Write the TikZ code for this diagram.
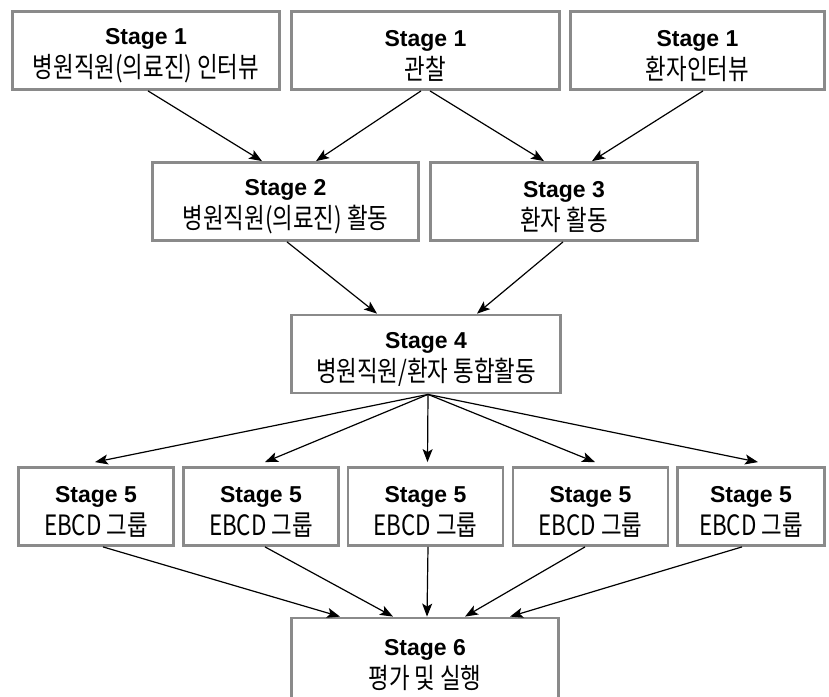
\documentclass[tikz,border=0pt]{standalone}
\usepackage{fontspec}
\setmainfont{Liberation Sans}
\newfontfamily\kr[FakeStretch=0.8]{Noto Sans CJK KR}
\usetikzlibrary{arrows.meta}
\definecolor{boxgray}{HTML}{8A8A8A}
\newcommand{\stg}[2]{\rule{0pt}{27pt}\textbf{#1}\\{\kr\fontsize{28}{33}\selectfont #2}}
\begin{document}
\begin{tikzpicture}[x=1pt,y=-1pt,
  box/.style={draw=boxgray, line width=2.8pt, fill=white, align=center, inner sep=0pt,
    minimum height=78pt, font=\fontsize{23}{33}\selectfont},
  arr/.style={-{Stealth[length=13pt,width=10pt,inset=3pt]}, line width=1.2pt}]
\useasboundingbox (0,0) rectangle (829,696);
% stage 1
\node[box, minimum width=267pt] (A) at (146,50.5) {\stg{Stage 1}{병원직원(의료진) 인터뷰}};
\node[box, minimum width=268pt] (B) at (425.5,50.5) {\stg{Stage 1}{관찰}};
\node[box, minimum width=254pt] (C) at (697.5,50.5) {\stg{Stage 1}{환자인터뷰}};
% stage 2,3
\node[box, minimum width=266pt] (S2) at (285.5,201.5) {\stg{Stage 2}{병원직원(의료진) 활동}};
\node[box, minimum width=267pt] (S3) at (564,201.5) {\stg{Stage 3}{환자 활동}};
% stage 4
\node[box, minimum width=269pt] (S4) at (426,354) {\stg{Stage 4}{병원직원/환자 통합활동}};
% stage 5
\node[box, minimum width=155pt] (S5a) at (96,506.5) {\stg{Stage 5}{EBCD 그룹}};
\node[box, minimum width=155pt] (S5b) at (261,506.5) {\stg{Stage 5}{EBCD 그룹}};
\node[box, minimum width=155pt] (S5c) at (425.5,506.5) {\stg{Stage 5}{EBCD 그룹}};
\node[box, minimum width=155pt] (S5d) at (590.5,506.5) {\stg{Stage 5}{EBCD 그룹}};
\node[box, minimum width=147pt] (S5e) at (751,506.5) {\stg{Stage 5}{EBCD 그룹}};
% stage 6 (cut off by the lower edge)
\node[box, minimum width=267pt, minimum height=84pt] (S6) at (425,660) {\stg{Stage 6}{평가 및 실행}};
% arrows stage 1 -> 2,3
\draw[arr] ([xshift=2pt]A.south) -- ([xshift=-23.5pt]S2.north);
\draw[arr] ([xshift=-4.5pt]B.south) -- ([xshift=30.5pt]S2.north);
\draw[arr] ([xshift=4.5pt]B.south) -- ([xshift=-20pt]S3.north);
\draw[arr] ([xshift=5.5pt]C.south) -- ([xshift=28pt]S3.north);
% 2,3 -> 4
\draw[arr] ([xshift=1.5pt]S2.south) -- ([xshift=-49pt]S4.north);
\draw[arr] ([xshift=-1pt]S3.south) -- ([xshift=51pt]S4.north);
% 4 -> 5
\draw[arr] ([xshift=2pt]S4.south) -- ([xshift=-1pt,yshift=4pt]S5a.north);
\draw[arr] ([xshift=2pt]S4.south) -- ([xshift=4pt,yshift=4pt]S5b.north);
\draw[arr] ([xshift=2pt]S4.south) -- ([xshift=2pt,yshift=4pt]S5c.north);
\draw[arr] ([xshift=2pt]S4.south) -- ([xshift=4.5pt,yshift=4pt]S5d.north);
\draw[arr] ([xshift=2pt]S4.south) -- ([xshift=7pt,yshift=4pt]S5e.north);
% 5 -> 6
\draw[arr] ([xshift=7pt]S5a.south) -- ([xshift=-85pt]S6.north);
\draw[arr] ([xshift=4pt]S5b.south) -- ([xshift=-32pt]S6.north);
\draw[arr] ([xshift=2.5pt]S5c.south) -- ([xshift=2pt]S6.north);
\draw[arr] ([xshift=-5.5pt]S5d.south) -- ([xshift=40pt]S6.north);
\draw[arr] ([xshift=-9pt]S5e.south) -- ([xshift=85pt]S6.north);
\end{tikzpicture}
\end{document}
